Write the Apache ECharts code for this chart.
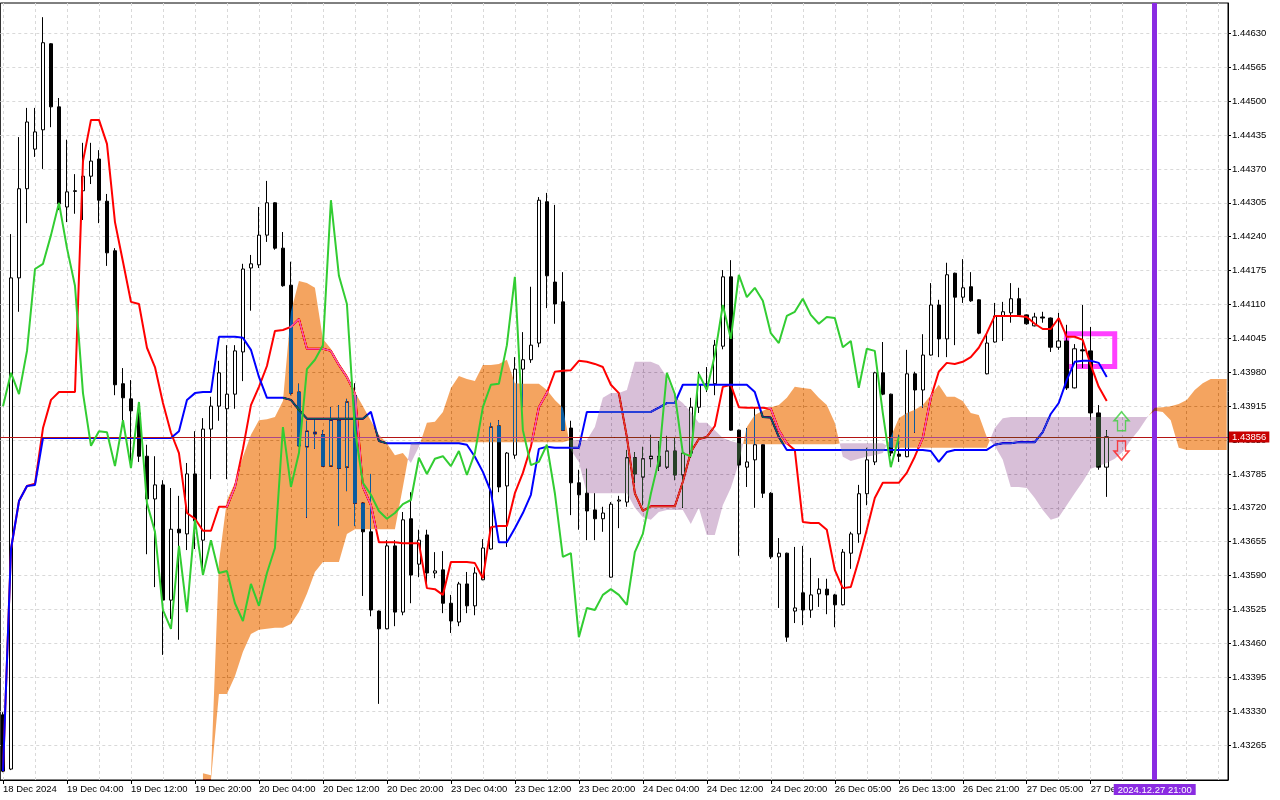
<!DOCTYPE html>
<html>
<head>
<meta charset="utf-8">
<title>Ichimoku H1</title>
<script src="https://cdn.jsdelivr.net/npm/echarts@6.0.0/dist/echarts.min.js"></script>
</head>
<body style="margin:0;background:#ffffff">
<div id="main" style="width:1280px;height:800px"></div>
<script>
// H1 candles, index 0 = 18 Dec 2024 20:00
var opens = [1.43323,1.43219,1.44161,1.44332,1.44408,1.44445,1.44610,1.44489,1.44297,1.44328,
1.44328,1.44356,1.44389,1.44308,1.44213,1.43958,1.43929,1.43902,1.43819,1.43737,
1.43764,1.43543,1.43679,1.43670,1.43785,1.43658,1.43871,1.43915,1.43910,1.43938,
1.44019,1.44180,1.44186,1.44243,1.44305,1.44218,1.44147,1.43942,1.43837,1.43862,
1.43860,1.43800,1.43887,1.43798,1.43935,1.43729,1.43674,1.43522,1.43488,1.43647,
1.43520,1.43699,1.43612,1.43668,1.43595,1.43601,1.43537,1.43501,1.43574,1.43532,
1.43582,1.43641,1.43877,1.43762,1.43821,1.43986,1.44004,1.44036,1.44307,1.44153,
1.44115,1.43873,1.43768,1.43748,1.43716,1.43699,1.43587,1.43733,1.43731,1.43816,
1.43779,1.43814,1.43819,1.43798,1.43829,1.43783,1.43825,1.43913,1.43956,1.43958,
1.44030,1.44163,1.43869,1.43798,1.43812,1.43841,1.43748,1.43626,1.43633,1.43522,
1.43557,1.43524,1.43555,1.43564,1.43553,1.43534,1.43633,1.43670,1.43747,1.43808,
1.43979,1.43938,1.43823,1.43818,1.43977,1.43946,1.44013,1.44109,1.44044,1.44170,
1.44124,1.44144,1.44119,1.43977,1.44038,1.44088,1.44094,1.44121,1.44090,1.44069,
1.44086,1.44084,1.44028,1.44040,1.43950,1.44023,1.44021,1.43902,1.43798];
var closes = [1.43215,1.44161,1.44332,1.44460,1.44441,1.44612,1.44489,1.44303,1.44326,1.44327,
1.44356,1.44385,1.44310,1.44209,1.43956,1.43931,1.43906,1.43819,1.43737,1.43764,
1.43543,1.43679,1.43672,1.43785,1.43695,1.43871,1.43915,1.43979,1.43938,1.44021,
1.44178,1.44188,1.44243,1.44305,1.44218,1.44146,1.43940,1.43839,1.43867,1.43865,
1.43800,1.43888,1.43796,1.43923,1.43729,1.43674,1.43524,1.43488,1.43647,1.43520,
1.43697,1.43591,1.43658,1.43595,1.43599,1.43537,1.43503,1.43574,1.43532,1.43595,
1.43643,1.43875,1.43760,1.43825,1.43986,1.44004,1.44032,1.44310,1.44165,1.44111,
1.43869,1.43768,1.43745,1.43714,1.43699,1.43710,1.43727,1.43735,1.43816,1.43785,
1.43814,1.43819,1.43800,1.43829,1.43783,1.43825,1.43913,1.43956,1.43958,1.44032,
1.44163,1.43869,1.43802,1.43808,1.43841,1.43748,1.43626,1.43633,1.43472,1.43528,
1.43524,1.43553,1.43564,1.43553,1.43534,1.43635,1.43670,1.43747,1.43812,1.43979,
1.43938,1.43825,1.43819,1.43977,1.43946,1.44013,1.44109,1.44044,1.44167,1.44124,
1.44142,1.44117,1.44055,1.44036,1.44088,1.44096,1.44121,1.44090,1.44073,1.44086,
1.44084,1.44028,1.44040,1.43950,1.44025,1.44021,1.43902,1.43798,1.43856];
var lows = [1.43213,1.43217,1.44096,1.44266,1.44393,1.44370,1.44450,1.44291,1.44268,1.44284,
1.44272,1.44341,1.44266,1.44184,1.43936,1.43887,1.43800,1.43808,1.43631,1.43568,
1.43438,1.43507,1.43467,1.43639,1.43641,1.43603,1.43775,1.43887,1.43775,1.43910,
1.43963,1.44098,1.44180,1.44230,1.44215,1.44144,1.43936,1.43837,1.43701,1.43833,
1.43799,1.43799,1.43685,1.43752,1.43685,1.43551,1.43512,1.43344,1.43487,1.43493,
1.43514,1.43537,1.43587,1.43572,1.43585,1.43518,1.43480,1.43493,1.43518,1.43514,
1.43581,1.43640,1.43750,1.43645,1.43814,1.43913,1.43998,1.44028,1.44103,1.44073,
1.43868,1.43706,1.43678,1.43658,1.43658,1.43674,1.43586,1.43681,1.43722,1.43768,
1.43725,1.43798,1.43791,1.43795,1.43773,1.43720,1.43816,1.43902,1.43942,1.43936,
1.44024,1.43868,1.43628,1.43760,1.43720,1.43739,1.43622,1.43528,1.43463,1.43499,
1.43495,1.43509,1.43530,1.43516,1.43491,1.43533,1.43603,1.43653,1.43725,1.43802,
1.43936,1.43819,1.43808,1.43817,1.43864,1.43912,1.44012,1.44009,1.44009,1.44032,
1.44113,1.44115,1.44053,1.43976,1.44037,1.44040,1.44075,1.44086,1.44071,1.44068,
1.44075,1.44019,1.44023,1.43946,1.43949,1.43988,1.43888,1.43793,1.43741];
var highs = [1.43328,1.44245,1.44431,1.44487,1.44487,1.44661,1.44611,1.44506,1.44426,1.44360,
1.44420,1.44420,1.44406,1.44322,1.44218,1.43988,1.43965,1.43921,1.43841,1.43819,
1.43773,1.43758,1.43743,1.43806,1.43867,1.43892,1.43933,1.44002,1.44032,1.44032,
1.44188,1.44205,1.44297,1.44347,1.44306,1.44249,1.44192,1.43958,1.43887,1.43890,
1.43869,1.43913,1.43917,1.43929,1.43959,1.43730,1.43785,1.43523,1.43658,1.43658,
1.43712,1.43750,1.43678,1.43678,1.43635,1.43637,1.43553,1.43578,1.43597,1.43606,
1.43660,1.43883,1.43888,1.43827,1.44009,1.44057,1.44144,1.44316,1.44324,1.44301,
1.44172,1.43887,1.43793,1.43795,1.43748,1.43722,1.43731,1.43743,1.43831,1.43827,
1.43837,1.43860,1.43848,1.43858,1.43854,1.43837,1.43931,1.43981,1.43990,1.44042,
1.44176,1.44195,1.43870,1.43873,1.43913,1.43842,1.43750,1.43662,1.43634,1.43645,
1.43647,1.43624,1.43585,1.43584,1.43555,1.43641,1.43674,1.43764,1.43835,1.43981,
1.44038,1.43939,1.43860,1.44023,1.43981,1.44053,1.44151,1.44119,1.44190,1.44171,
1.44197,1.44172,1.44120,1.44055,1.44113,1.44115,1.44151,1.44142,1.44091,1.44094,
1.44096,1.44085,1.44094,1.44071,1.44034,1.44109,1.44067,1.43917,1.43869];

// Ichimoku lines
var tenkan = [1.43215,1.43641,1.43733,1.43762,1.43766,1.43873,1.43927,1.43942,1.43942,1.43942,
1.44385,1.44464,1.44464,1.44418,1.44268,1.44192,1.44115,1.44111,1.44027,1.43990,
1.43921,1.43864,1.43825,1.43710,1.43699,1.43676,1.43676,1.43722,1.43722,1.43760,
1.43833,1.43917,1.43952,1.43992,1.44059,1.44061,1.44067,1.44082,1.44025,1.44025,
1.44025,1.44021,1.43994,1.43971,1.43940,1.43760,1.43725,1.43654,1.43654,1.43654,
1.43652,1.43652,1.43652,1.43566,1.43564,1.43553,1.43616,1.43616,1.43616,1.43614,
1.43585,1.43683,1.43685,1.43685,1.43748,1.43787,1.43837,1.43913,1.43940,1.43981,
1.43983,1.43984,1.44002,1.44000,1.43996,1.43990,1.43956,1.43940,1.43856,1.43748,
1.43714,1.43723,1.43723,1.43723,1.43723,1.43770,1.43827,1.43852,1.43856,1.43877,
1.43952,1.43956,1.43913,1.43912,1.43912,1.43912,1.43910,1.43869,1.43844,1.43831,
1.43693,1.43691,1.43691,1.43678,1.43601,1.43566,1.43568,1.43620,1.43678,1.43739,
1.43768,1.43768,1.43768,1.43787,1.43818,1.43854,1.43931,1.43981,1.43998,1.43996,
1.44000,1.44009,1.44027,1.44055,1.44088,1.44088,1.44088,1.44088,1.44086,1.44073,
1.44063,1.44063,1.44084,1.44048,1.44048,1.44042,1.43994,1.43952,1.43925];
var kijun = [1.43215,1.43641,1.43733,1.43762,1.43764,1.43854,1.43854,1.43854,1.43854,1.43854,
1.43854,1.43854,1.43854,1.43854,1.43854,1.43854,1.43854,1.43854,1.43854,1.43854,
1.43854,1.43854,1.43867,1.43927,1.43940,1.43942,1.43942,1.44048,1.44048,1.44048,
1.44046,1.44023,1.43971,1.43931,1.43931,1.43931,1.43927,1.43908,1.43891,1.43891,
1.43891,1.43891,1.43891,1.43891,1.43891,1.43891,1.43904,1.43848,1.43844,1.43844,
1.43844,1.43844,1.43844,1.43844,1.43844,1.43844,1.43844,1.43844,1.43841,1.43818,
1.43789,1.43751,1.43654,1.43654,1.43681,1.43710,1.43745,1.43833,1.43837,1.43835,
1.43835,1.43835,1.43835,1.43904,1.43904,1.43904,1.43904,1.43904,1.43904,1.43904,
1.43904,1.43904,1.43912,1.43921,1.43921,1.43956,1.43956,1.43956,1.43956,1.43956,
1.43956,1.43956,1.43956,1.43956,1.43942,1.43894,1.43893,1.43856,1.43831,1.43831,
1.43831,1.43831,1.43831,1.43831,1.43831,1.43831,1.43831,1.43831,1.43831,1.43831,
1.43831,1.43831,1.43831,1.43831,1.43831,1.43831,1.43829,1.43808,1.43827,1.43831,
1.43831,1.43831,1.43831,1.43831,1.43841,1.43844,1.43844,1.43846,1.43846,1.43846,
1.43865,1.43900,1.43921,1.43965,1.44000,1.44002,1.44002,1.43998,1.43971];

// Senkou spans (cloud), from index 25 to 153
var cloudStart = 25;
var spanA = [1.43211,1.43207,1.43616,1.43735,1.43768,1.43818,1.43860,1.43888,1.43890,1.43894,
1.43925,1.44096,1.44155,1.44151,1.44142,1.44044,1.44025,1.43998,1.43975,1.43942,
1.43915,1.43887,1.43860,1.43844,1.43821,1.43825,1.43806,1.43837,1.43883,1.43885,
1.43904,1.43950,1.43973,1.43967,1.43963,1.43994,1.43994,1.43996,1.44004,1.43959,
1.43958,1.43958,1.43958,1.43946,1.43927,1.43912,1.43831,1.43808,1.43748,1.43748,
1.43748,1.43748,1.43748,1.43748,1.43720,1.43702,1.43697,1.43712,1.43716,1.43716,
1.43716,1.43689,1.43720,1.43668,1.43668,1.43725,1.43758,1.43806,1.43875,1.43898,
1.43906,1.43913,1.43917,1.43931,1.43952,1.43950,1.43948,1.43931,1.43917,1.43883,
1.43818,1.43810,1.43814,1.43818,1.43821,1.43825,1.43856,1.43892,1.43902,1.43908,
1.43917,1.43936,1.43956,1.43933,1.43933,1.43925,1.43902,1.43898,1.43856,1.43839,
1.43812,1.43760,1.43760,1.43758,1.43739,1.43716,1.43697,1.43702,1.43725,1.43748,
1.43770,1.43795,1.43800,1.43806,1.43814,1.43827,1.43850,1.43869,1.43892,1.43912,
1.43913,1.43915,1.43919,1.43927,1.43946,1.43959,1.43967,1.43967,1.43967];
var spanB = [1.43180,1.43180,1.43363,1.43363,1.43397,1.43444,1.43478,1.43486,1.43488,1.43490,
1.43490,1.43497,1.43520,1.43555,1.43597,1.43616,1.43616,1.43616,1.43670,1.43679,
1.43679,1.43679,1.43679,1.43679,1.43679,1.43760,1.43844,1.43846,1.43846,1.43846,
1.43846,1.43846,1.43846,1.43846,1.43846,1.43846,1.43846,1.43846,1.43846,1.43846,
1.43846,1.43846,1.43846,1.43846,1.43846,1.43846,1.43850,1.43850,1.43850,1.43875,
1.43931,1.43940,1.43940,1.43946,1.44000,1.44000,1.44000,1.43994,1.43971,1.43933,
1.43921,1.43904,1.43883,1.43883,1.43869,1.43854,1.43848,1.43844,1.43842,1.43842,
1.43842,1.43842,1.43842,1.43842,1.43842,1.43842,1.43842,1.43842,1.43842,1.43842,
1.43844,1.43844,1.43844,1.43844,1.43844,1.43844,1.43835,1.43835,1.43835,1.43835,
1.43835,1.43835,1.43835,1.43835,1.43835,1.43835,1.43835,1.43835,1.43835,1.43873,
1.43892,1.43894,1.43894,1.43894,1.43894,1.43894,1.43894,1.43894,1.43894,1.43894,
1.43894,1.43894,1.43894,1.43894,1.43894,1.43894,1.43894,1.43894,1.43894,1.43906,
1.43904,1.43888,1.43835,1.43831,1.43831,1.43831,1.43831,1.43831,1.43831];

var chikouShift = 26;
var timeLabels = ['18 Dec 2024','19 Dec 04:00','19 Dec 12:00','19 Dec 20:00','20 Dec 04:00','20 Dec 12:00',
  '20 Dec 20:00','23 Dec 04:00','23 Dec 12:00','23 Dec 20:00','24 Dec 04:00','24 Dec 12:00',
  '24 Dec 20:00','26 Dec 05:00','26 Dec 13:00','26 Dec 21:00','27 Dec 05:00','27 Dec 13:00'];
var labelStep = 8;
var labelTicks = [0,8,16,24,32,40,48,56,64,72,80,88,96,104,112,120,128,136];
var gridTicks = [0,4,8,12,16,20,24,28,32,36,40,44,48,52,56,60,64,68,72,76,80,84,88,92,96,100,
  104,108,112,116,120,124,128,132,136,140,144,148,152];
var priceTicks = [1.43265,1.43330,1.43395,1.43460,1.43525,1.43590,1.43655,1.43720,1.43785,1.43850,
  1.43915,1.43980,1.44045,1.44110,1.44175,1.44240,1.44305,1.44370,1.44435,1.44500,1.44565,1.44630];

var vlineIndex = 144, vlineText = '2024.12.27 21:00';
var boxFrom = [133, 1.44054], boxTo = [139, 1.43991];
var arrowUp = [139.85, 1.43886], arrowDown = [139.85, 1.43830];

var X_MIN = -0.3375, X_MAX = 153.1625;
var Y_MIN = 1.43198, Y_MAX = 1.446882;
var FONT = 'Liberation Sans, Arial, sans-serif';

var candleData = opens.map(function (o, i) { return [i, o, closes[i], lows[i], highs[i]]; });
function toXY(arr) { return arr.map(function (v, i) { return [i, v]; }); }
var chikou = closes.slice(chikouShift).map(function (v, i) { return [i, v]; });
var cloudData = spanA.map(function (a, k) { return [k + cloudStart, a, spanB[k]]; });
var lastPrice = closes[closes.length - 1];

// the cloud is painted like the terminal does it: inverted colours on their own
// layer, which is then composited with "difference" over the chart below
function renderCloud(params, api) {
    if (params.dataIndex !== 0) return null;
    function pt(q) { return api.coord([q[0], Math.max(q[1], Y_MIN)]); }
    var regions = [], cur = null;
    for (var k = 0; k < cloudData.length; k++) {
        var x = cloudData[k][0], a = cloudData[k][1], b = cloudData[k][2];
        var up = a >= b;
        if (cur && cur.up !== up) {
            var p = cloudData[k - 1];
            var d0 = p[1] - p[2], d1 = a - b;
            var t = d0 / (d0 - d1);
            var c = [p[0] + t * (x - p[0]), p[1] + t * (a - p[1])];
            cur.a.push(c); cur.b.push(c);
            regions.push(cur);
            cur = {up: up, a: [c], b: [c]};
        }
        if (!cur) cur = {up: up, a: [], b: []};
        cur.a.push([x, a]); cur.b.push([x, b]);
    }
    regions.push(cur);
    return {
        type: 'group',
        children: regions.map(function (r) {
            var pts = r.a.map(pt).concat(r.b.slice().reverse().map(pt));
            return {type: 'polygon', shape: {points: pts},
                style: {fill: r.up ? '#0b5b9f' : '#274027'}};
        })
    };
}

var upPath = 'path://M7.5,0 L15,9 L11.5,9 L11.5,19 L3.5,19 L3.5,9 L0,9 Z';
var downPath = 'path://M3.5,0 L11.5,0 L11.5,10 L15,10 L7.5,19 L0,10 L3.5,10 Z';

var chart = echarts.init(document.getElementById('main'));
var option = {
    backgroundColor: '#ffffff',
    animation: false,
    grid: {left: 0, right: 52, top: 3, bottom: 20, show: true, borderColor: '#000', borderWidth: 1},
    xAxis: [{
        type: 'value', min: X_MIN, max: X_MAX,
        axisLine: {show: false, onZero: false},
        axisTick: {show: false, customValues: gridTicks},
        axisLabel: {show: false},
        splitLine: {show: true, lineStyle: {color: '#d9d9d9', type: [3, 3], width: 1}}
    }, {
        type: 'value', min: X_MIN, max: X_MAX, position: 'bottom',
        axisLine: {show: true, onZero: false, lineStyle: {color: '#000', width: 1}},
        axisTick: {show: true, customValues: labelTicks, length: 4, lineStyle: {color: '#000'}},
        axisLabel: {
            customValues: labelTicks, align: 'left', margin: 4,
            color: '#000', fontSize: 9.5, fontFamily: FONT,
            formatter: function (v) { return timeLabels[Math.round(v / labelStep)]; }
        },
        splitLine: {show: false}
    }],
    yAxis: {
        type: 'value', position: 'right', min: Y_MIN, max: Y_MAX,
        axisLine: {show: true, onZero: false, lineStyle: {color: '#000', width: 1}},
        axisTick: {show: true, length: 3, customValues: priceTicks, lineStyle: {color: '#000'}},
        axisLabel: {
            customValues: priceTicks, margin: 4, color: '#000', fontSize: 9.5, fontFamily: FONT,
            formatter: function (v) { return v.toFixed(5); }
        },
        splitLine: {show: true, lineStyle: {color: '#d9d9d9', type: [3, 3], width: 1}}
    },
    series: [{
        type: 'candlestick', name: 'price', z: 2, silent: true,
        data: candleData, encode: {x: 0, y: [1, 2, 3, 4]},
        barWidth: 4,
        itemStyle: {color: '#ffffff', color0: '#000000', borderColor: '#000000',
            borderColor0: '#000000', borderColorDoji: '#000000', borderWidth: 1}
    }, {
        type: 'line', name: 'Tenkan-sen', z: 3, silent: true, data: toXY(tenkan),
        showSymbol: false, symbol: 'none', lineStyle: {color: '#ff0000', width: 2}
    }, {
        type: 'line', name: 'Kijun-sen', z: 3, silent: true, data: toXY(kijun),
        showSymbol: false, symbol: 'none', lineStyle: {color: '#0000ff', width: 2},
        markLine: {
            symbol: 'none', silent: true, animation: false, precision: 5,
            data: [{
                yAxis: lastPrice,
                lineStyle: {color: '#b41414', width: 1, type: 'solid'},
                label: {show: true, position: 'end', distance: 1, formatter: lastPrice.toFixed(5),
                    backgroundColor: '#c80000', color: '#fff', padding: [1, 3, 0, 3],
                    fontSize: 9.5, fontFamily: FONT}
            }]
        }
    }, {
        type: 'custom', name: 'Kumo', zlevel: 1, z: 4, silent: true,
        data: cloudData, encode: {x: 0, y: [1, 2]},
        renderItem: renderCloud
    }, {
        type: 'line', name: 'Chikou Span', zlevel: 2, z: 5, silent: true, data: chikou,
        showSymbol: false, symbol: 'none', lineStyle: {color: '#32cd32', width: 2}
    }, {
        type: 'scatter', name: 'signals', zlevel: 2, z: 6, silent: true,
        symbolSize: [15, 19],
        itemStyle: {color: 'rgba(0,0,0,0)', borderWidth: 1.5},
        data: [
            {value: arrowUp, symbol: upPath, itemStyle: {borderColor: '#3ccf3c'}},
            {value: arrowDown, symbol: downPath, itemStyle: {borderColor: '#ff1a1a'}}
        ],
        markLine: {
            symbol: 'none', silent: true, animation: false, precision: 5,
            data: [{
                xAxis: vlineIndex,
                lineStyle: {color: '#8a2be2', width: 5, type: 'solid'},
                label: {show: true, position: 'start', distance: 4, formatter: vlineText,
                    backgroundColor: '#8a2be2', color: '#fff', padding: [1, 4, 0, 4],
                    fontSize: 9.5, fontFamily: FONT}
            }]
        },
        markArea: {
            silent: true,
            itemStyle: {color: 'rgba(0,0,0,0)', borderColor: '#ff40ff', borderWidth: 5},
            data: [[{coord: boxFrom}, {coord: boxTo}]]
        }
    }]
};
chart.setOption(option);

function blendCloudLayer() {
    var layer = document.querySelector('#main canvas[data-zr-dom-id="zr_1"]');
    if (!layer) {
        var all = document.querySelectorAll('#main canvas');
        if (all.length > 2) layer = all[1];
    }
    if (layer) layer.style.mixBlendMode = 'difference';
}
blendCloudLayer();
chart.on('finished', blendCloudLayer);
</script>
</body>
</html>
